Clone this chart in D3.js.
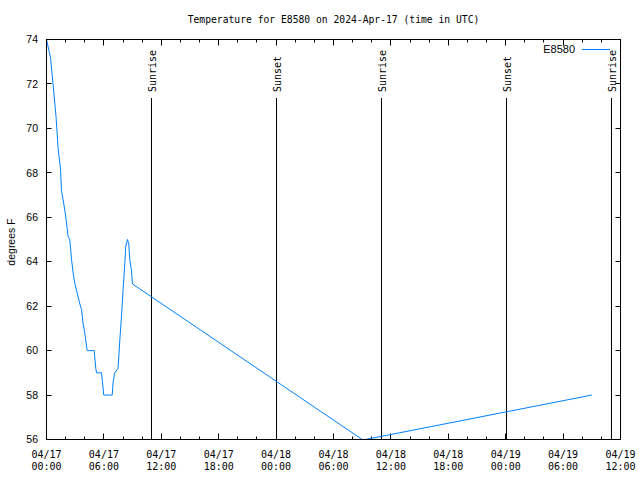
<!DOCTYPE html>
<html><head><meta charset="utf-8">
<script src="https://cdn.jsdelivr.net/npm/d3@7"></script>
<style>body{margin:0;background:#fff}svg{display:block}</style>
</head><body><svg id="c" width="640" height="480"></svg>
<script>
const title = "Temperature for E8580 on 2024-Apr-17 (time in UTC)";
const seriesName = "E8580";
const yLabel = "degrees F";
const times = [
 "2024-04-17T00:00Z","2024-04-17T00:25Z","2024-04-17T00:41Z","2024-04-17T01:00Z","2024-04-17T01:13Z",
 "2024-04-17T01:28Z","2024-04-17T01:34Z","2024-04-17T01:44Z","2024-04-17T01:55Z","2024-04-17T02:05Z",
 "2024-04-17T02:15Z","2024-04-17T02:26Z","2024-04-17T02:37Z","2024-04-17T02:47Z","2024-04-17T02:58Z",
 "2024-04-17T03:12Z","2024-04-17T03:29Z","2024-04-17T03:40Z","2024-04-17T03:50Z","2024-04-17T04:00Z",
 "2024-04-17T04:15Z","2024-04-17T04:59Z","2024-04-17T05:09Z","2024-04-17T05:14Z","2024-04-17T05:45Z",
 "2024-04-17T05:51Z","2024-04-17T05:59Z","2024-04-17T06:52Z","2024-04-17T06:58Z","2024-04-17T07:08Z",
 "2024-04-17T07:29Z","2024-04-17T07:40Z","2024-04-17T07:50Z","2024-04-17T08:00Z","2024-04-17T08:11Z",
 "2024-04-17T08:17Z","2024-04-17T08:28Z","2024-04-17T08:36Z","2024-04-17T08:42Z","2024-04-17T08:53Z",
 "2024-04-17T08:59Z","2024-04-18T09:00Z","2024-04-18T09:20Z","2024-04-19T09:00Z"];
const temps = [
 74.0,73.2,72.0,70.5,69.1,
 68.15,67.2,66.8,66.3,65.8,
 65.15,65.0,64.1,63.5,63.0,
 62.6,62.1,61.85,61.2,60.8,
 60.0,60.0,59.2,59.0,59.0,
 58.6,58.0,58.0,58.6,59.0,
 59.2,60.5,61.5,62.7,63.9,
 64.7,65.0,64.8,64.1,63.6,
 63.0,56.0,56.0,58.0];
const eventTimes = ["2024-04-17T11:01Z","2024-04-18T00:04Z","2024-04-18T11:02Z","2024-04-19T00:05Z","2024-04-19T11:06Z"];
const eventLabels = ["Sunrise","Sunset","Sunrise","Sunset","Sunrise"];
const xDomain = ["2024-04-17T00:00Z","2024-04-19T12:00Z"];
const yTicks = [56,58,60,62,64,66,68,70,72,74];

const svg = d3.select("#c");
const L=46.5,R=620.5,T=39.5,B=439.5;
const x = d3.scaleUtc().domain(xDomain.map(d=>new Date(d))).range([L,R]);
const y = d3.scaleLinear().domain([56,74]).range([B,T]);
const mono = "'DejaVu Sans Mono', 'Liberation Mono', monospace";
const sans = "'Liberation Sans', Arial, sans-serif";

// title
svg.append("text").attr("x",(L+R)/2).attr("y",23).attr("text-anchor","middle")
  .attr("font-family",mono).attr("font-size",9.7).text(title);

// ticks
const major = x.ticks(d3.utcHour.every(6));
const minor = x.ticks(d3.utcHour.every(2)).filter(d=>d.getUTCHours()%6!==0);
const tg = svg.append("g").attr("stroke","#000").attr("stroke-width",1);
major.forEach(d=>{const px=Math.round(x(d)-0.5)+0.5;
  tg.append("line").attr("x1",px).attr("x2",px).attr("y1",B).attr("y2",B-6);
  tg.append("line").attr("x1",px).attr("x2",px).attr("y1",T).attr("y2",T+6);});
minor.forEach(d=>{const px=Math.round(x(d)-0.5)+0.5;
  tg.append("line").attr("x1",px).attr("x2",px).attr("y1",B).attr("y2",B-3);
  tg.append("line").attr("x1",px).attr("x2",px).attr("y1",T).attr("y2",T+3);});
yTicks.forEach(v=>{const py=Math.round(y(v)-0.5)+0.5;
  tg.append("line").attr("x1",L).attr("x2",L+5).attr("y1",py).attr("y2",py);
  tg.append("line").attr("x1",R).attr("x2",R-5).attr("y1",py).attr("y2",py);});

// x tick labels
const fD=d3.utcFormat("%m/%d"), fT=d3.utcFormat("%H:%M");
major.forEach(d=>{
  svg.append("text").attr("x",x(d)).attr("y",457.5).attr("text-anchor","middle")
    .attr("font-family",mono).attr("font-size",10).text(fD(d));
  svg.append("text").attr("x",x(d)).attr("y",470).attr("text-anchor","middle")
    .attr("font-family",mono).attr("font-size",10).text(fT(d));
});
// y tick labels
yTicks.forEach(v=>{
  svg.append("text").attr("x",38).attr("y",y(v)).attr("dy","0.35em").attr("text-anchor","end")
    .attr("font-family",sans).attr("font-size",10.5).text(v);
});
svg.append("text").attr("transform","translate(15,242) rotate(-90)").attr("text-anchor","middle")
  .attr("font-family",sans).attr("font-size",10.5).text(yLabel);

// events
eventTimes.forEach((t,i)=>{
  const px=Math.round(x(new Date(t))-0.5)+0.5;
  svg.append("line").attr("x1",px).attr("x2",px).attr("y1",98).attr("y2",B)
    .attr("stroke","#000").attr("stroke-width",1);
  svg.append("text").attr("transform",`translate(${px+4},92) rotate(-90)`)
    .attr("font-family",mono).attr("font-size",10).text(eventLabels[i]);
});

// data line
const data = times.map((t,i)=>({t:new Date(t),v:temps[i]}));
svg.append("path").datum(data).attr("fill","none").attr("stroke","#0080ff").attr("stroke-width",1)
  .attr("d",d3.line().x(d=>x(d.t)).y(d=>y(d.v)));

// frame
svg.append("rect").attr("x",L).attr("y",T).attr("width",R-L).attr("height",B-T)
  .attr("fill","none").attr("stroke","#000").attr("stroke-width",1);

// legend
svg.append("text").attr("x",575).attr("y",53).attr("text-anchor","end")
  .attr("font-family",sans).attr("font-size",11).text(seriesName);
svg.append("line").attr("x1",582).attr("x2",610).attr("y1",49.5).attr("y2",49.5)
  .attr("stroke","#0080ff").attr("stroke-width",1);
</script></body></html>
